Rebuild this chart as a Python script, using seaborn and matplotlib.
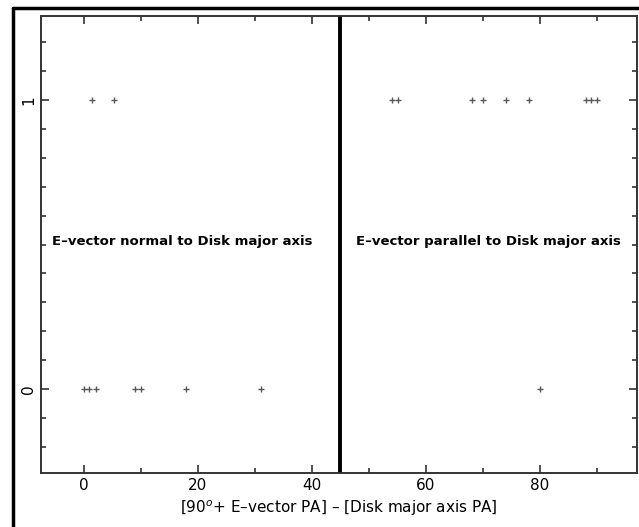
import matplotlib
matplotlib.use("Agg")
import matplotlib.pyplot as plt
import numpy as np
import pandas as pd
import seaborn as sns
from matplotlib.lines import Line2D
from matplotlib.ticker import MultipleLocator, FixedLocator

# Offset angle (deg) for sources, split by detection flag (0 / 1)
x_flag1 = [1.4, 5.3, 54.0, 55.1, 68.0, 70.0, 74.0, 78.0, 88.1, 89.0, 90.0]
x_flag0 = [0.0, 1.0, 2.1, 8.9, 10.0, 18.0, 31.0, 80.0]
divider_x = 45
label_left = "E\u2013vector normal to Disk major axis"
label_right = "E\u2013vector parallel to Disk major axis"
xlabel = "[90$^o$+ E\u2013vector PA] \u2013 [Disk major axis PA]"

df = pd.DataFrame({
    "angle": x_flag1 + x_flag0,
    "flag": [1] * len(x_flag1) + [0] * len(x_flag0),
})

sns.set_style("ticks")
plt.rcParams["font.family"] = ["DejaVu Sans"]
plt.rcParams["axes.linewidth"] = 1.4
plt.rcParams["text.color"] = "black"
plt.rcParams["axes.labelcolor"] = "black"
plt.rcParams["xtick.labelcolor"] = "black"
plt.rcParams["ytick.labelcolor"] = "black"
plt.rcParams["axes.edgecolor"] = "0.2"

fig = plt.figure(figsize=(6.39, 5.27), dpi=100)
ax = fig.add_axes([41 / 639, 1 - 473 / 527, 596 / 639, 457 / 527])

sns.scatterplot(data=df, x="angle", y="flag", marker="+", s=18,
                color="0.35", linewidth=1.0, ax=ax, legend=False)

ax.axvline(divider_x, color="black", linewidth=2.8)

ax.set_xlim(-7.5, 97)
ax.set_ylim(-0.29, 1.29)

ax.xaxis.set_major_locator(MultipleLocator(20))
ax.xaxis.set_minor_locator(MultipleLocator(10))
ax.yaxis.set_major_locator(FixedLocator([0, 1]))
ax.yaxis.set_minor_locator(MultipleLocator(0.1))
ax.tick_params(which="both", direction="in", top=True, right=True,
               color="0.2", labelsize=11)
ax.tick_params(which="major", length=6, width=1.2)
ax.tick_params(which="minor", length=3.5, width=1.2)
for lab in ax.get_yticklabels():
    lab.set_rotation(90)
    lab.set_va("center")

ax.text(-5.5, 0.51, label_left, fontsize=9.5, fontweight="bold", va="center")
ax.text(47.8, 0.51, label_right, fontsize=9.5, fontweight="bold", va="center")

ax.set_xlabel(xlabel, fontsize=11, labelpad=4)
ax.set_ylabel("")

# outer frame of the scanned figure
fig.add_artist(Line2D([12.5 / 639, 12.5 / 639], [0, 1 - 8 / 527],
                      transform=fig.transFigure, color="black", linewidth=2.5))
fig.add_artist(Line2D([12.5 / 639, 1], [1 - 8 / 527, 1 - 8 / 527],
                      transform=fig.transFigure, color="black", linewidth=2.5))

fig.savefig("out.png", dpi=100)
